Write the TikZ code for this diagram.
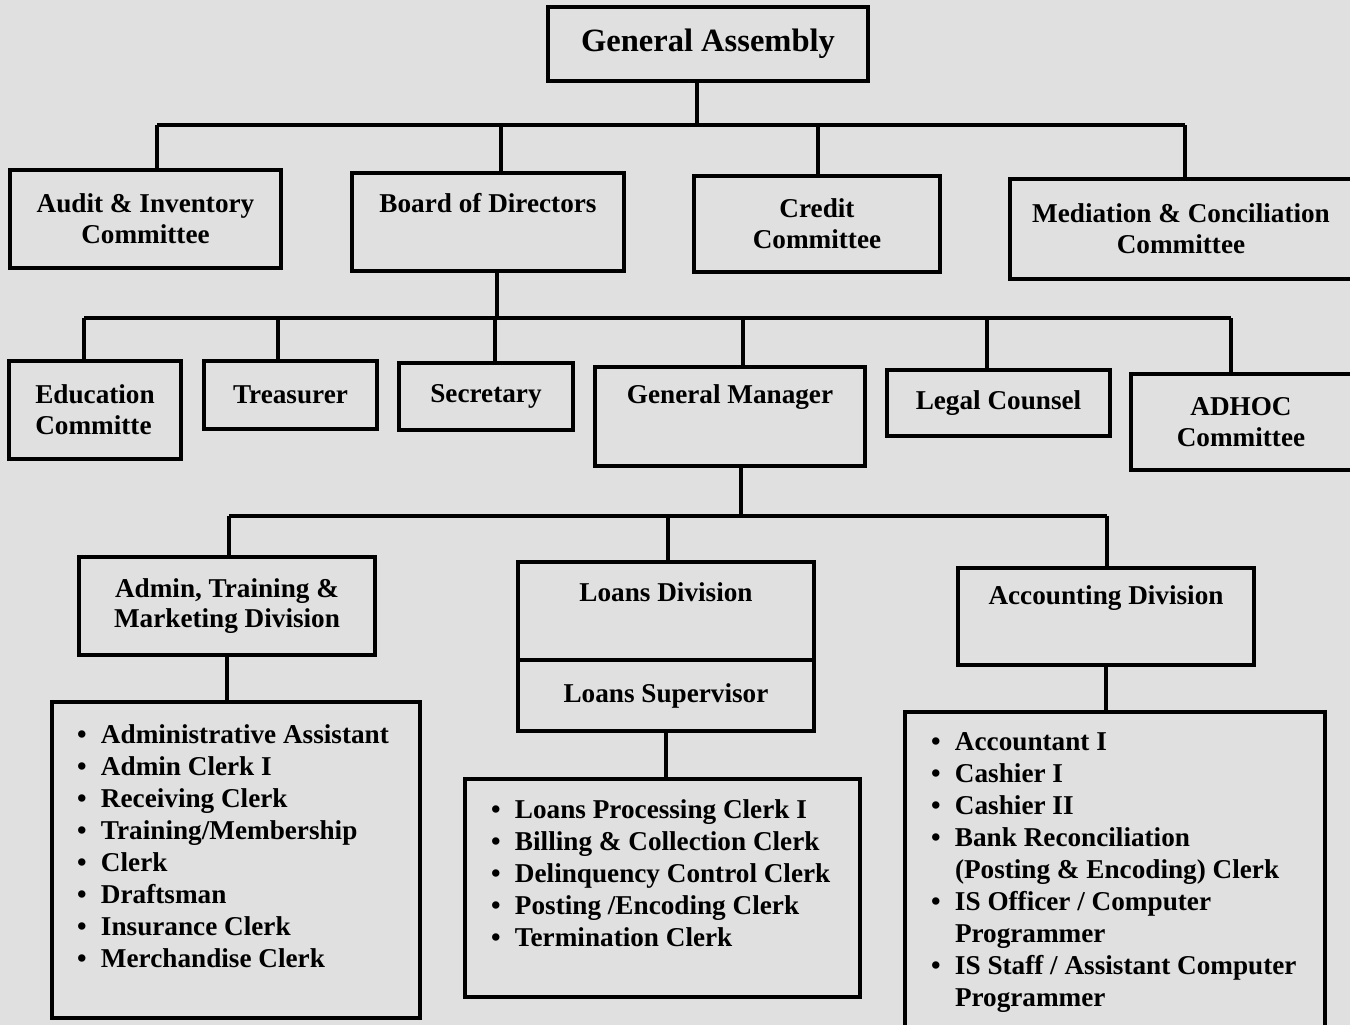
\documentclass[tikz,border=0pt]{standalone}
\usepackage{fontspec}
\setmainfont{Liberation Serif}

\tikzset{every picture/.style={line width=3pt}}
\tikzset{
  box/.style={draw, line width=3pt, align=center, inner sep=2pt,
    font=\bfseries\fontsize{20.4}{23}\selectfont},
  lbl/.style={inner sep=0.75pt, align=center,
    font=\bfseries\fontsize{20.4}{23}\selectfont},
  listtxt/.style={anchor=north west, inner sep=0pt, align=left,
    font=\bfseries\fontsize{20.4}{24}\selectfont},
  link/.style={line width=3.5pt}
}
\newcommand{\bul}[1]{\makebox[18pt][l]{\textbullet}#1}
\newcommand{\cont}[1]{\hspace*{18pt}#1}

\begin{document}
\begin{tikzpicture}[x=0.75pt,y=0.75pt,yscale=-1,xscale=1]
\useasboundingbox (0,0) rectangle (1350,1025);
\fill[black!12] (0,0) rectangle (1350,1025);

% Shapes, top level
\node[box, minimum width=240pt, minimum height=55.5pt, font=\bfseries\fontsize{24.4}{28}\selectfont] (ga) at (708,44) {General Assembly};
\node[box, minimum width=203.25pt, minimum height=73.5pt] (aud) at (145.5,219) {Audit \& Inventory\\Committee};
\node[box, minimum width=204pt, minimum height=73.5pt] (bod) at (488,222) {};
\node[box, minimum width=184.5pt, minimum height=72pt] (cred) at (817,224) {Credit\\Committee};
\node[box, minimum width=256.5pt, minimum height=75pt] (med) at (1181,229) {Mediation \& Conciliation\\Committee};

% Shapes, second level
\node[box, minimum width=129pt, minimum height=73.5pt, align=left] (edu) at (95,410) {Education\\Committe};
\node[box, minimum width=129.75pt, minimum height=51pt] (tre) at (290.5,395) {Treasurer};
\node[box, minimum width=130.5pt, minimum height=50.25pt] (sec) at (486,396.5) {Secretary};
\node[box, minimum width=202.5pt, minimum height=74.25pt] (gm) at (730,416.5) {};
\node[box, minimum width=167.25pt, minimum height=49.5pt] (leg) at (998.5,403) {Legal Counsel};
\node[box, minimum width=165.75pt, minimum height=72pt] (adh) at (1241,422) {ADHOC\\Committee};

% Shapes, divisions
\node[box, minimum width=222pt, minimum height=73.5pt] (adm) at (227,606) {Admin, Training \&\\Marketing Division};
\node[box, minimum width=222pt, minimum height=73.5pt] (loans) at (666,611) {};
\node[box, minimum width=222pt, minimum height=53.25pt, anchor=north, yshift=3pt] (sup) at (loans.south) {Loans Supervisor};
\node[box, minimum width=222pt, minimum height=72.75pt] (acc) at (1106,616.5) {};

% Shapes, staff lists
\node[box, minimum width=276pt, minimum height=237pt] (admlist) at (236,860) {};
\node[box, minimum width=296.25pt, minimum height=163.5pt] (loanlist) at (662.5,888) {};
\node[box, minimum width=315pt, minimum height=237pt] (acclist) at (1115,870) {};

% Text Node
\node[lbl] (bodt) at (488,203) {Board of Directors};
% Text Node
\node[lbl] (gmt) at (730,397) {General Manager};
% Text Node
\node[lbl] (loanst) at (666,592) {Loans Division};
% Text Node
\node[lbl] (acct) at (1106,598) {Accounting Division};

% Text Node
\node[listtxt] (admitems) at (75,723) {%
\bul{Administrative Assistant}\\
\bul{Admin Clerk I}\\
\bul{Receiving Clerk}\\
\bul{Training/Membership}\\
\bul{Clerk}\\
\bul{Draftsman}\\
\bul{Insurance Clerk}\\
\bul{Merchandise Clerk}};
% Text Node
\node[listtxt] (loanitems) at (489,798) {%
\bul{Loans Processing Clerk I}\\
\bul{Billing \& Collection Clerk}\\
\bul{Delinquency Control Clerk}\\
\bul{Posting /Encoding Clerk}\\
\bul{Termination Clerk}};
% Text Node
\node[listtxt] (accitems) at (929,731) {%
\bul{Accountant I}\\
\bul{Cashier I}\\
\bul{Cashier II}\\
\bul{Bank Reconciliation}\\
\cont{(Posting \& Encoding) Clerk}\\
\bul{IS Officer / Computer}\\
\cont{Programmer}\\
\bul{IS Staff / Assistant Computer}\\
\cont{Programmer}};

% Bus points
\coordinate (ta) at (697,125);
\coordinate (ta1) at (157,125);
\coordinate (ta2) at (501,125);
\coordinate (ta3) at (818,125);
\coordinate (ta4) at (1185,125);
\coordinate (tb) at (497,318);
\coordinate (tb1) at (84,318);
\coordinate (tb2) at (278,318);
\coordinate (tb3) at (495,318);
\coordinate (tb4) at (743,318);
\coordinate (tb5) at (987,318);
\coordinate (tb6) at (1231,318);
\coordinate (tc) at (741,516);
\coordinate (tc1) at (229,516);
\coordinate (tc2) at (668,516);
\coordinate (tc3) at (1107,516);

%Straight Lines
\draw[link] (ga.south -| ta) -- (ta);
\draw[link] (ta1) -- (ta4);
\draw[link] (ta1) -- (ta1 |- aud.north);
\draw[link] (ta2) -- (ta2 |- bod.north);
\draw[link] (ta3) -- (ta3 |- cred.north);
\draw[link] (ta4) -- (ta4 |- med.north);
%Straight Lines
\draw[link] (bod.south -| tb) -- (tb);
\draw[link] (tb1) -- (tb6);
\draw[link] (tb1) -- (tb1 |- edu.north);
\draw[link] (tb2) -- (tb2 |- tre.north);
\draw[link] (tb3) -- (tb3 |- sec.north);
\draw[link] (tb4) -- (tb4 |- gm.north);
\draw[link] (tb5) -- (tb5 |- leg.north);
\draw[link] (tb6) -- (tb6 |- adh.north);
%Straight Lines
\draw[link] (gm.south -| tc) -- (tc);
\draw[link] (tc1) -- (tc3);
\draw[link] (tc1) -- (tc1 |- adm.north);
\draw[link] (tc2) -- (tc2 |- loans.north);
\draw[link] (tc3) -- (tc3 |- acc.north);
%Straight Lines
\draw[link] (adm.south) -- (admlist.north -| adm.south);
\draw[link] (sup.south) -- (loanlist.north -| sup.south);
\draw[link] (acc.south) -- (acclist.north -| acc.south);
\end{tikzpicture}
\end{document}
